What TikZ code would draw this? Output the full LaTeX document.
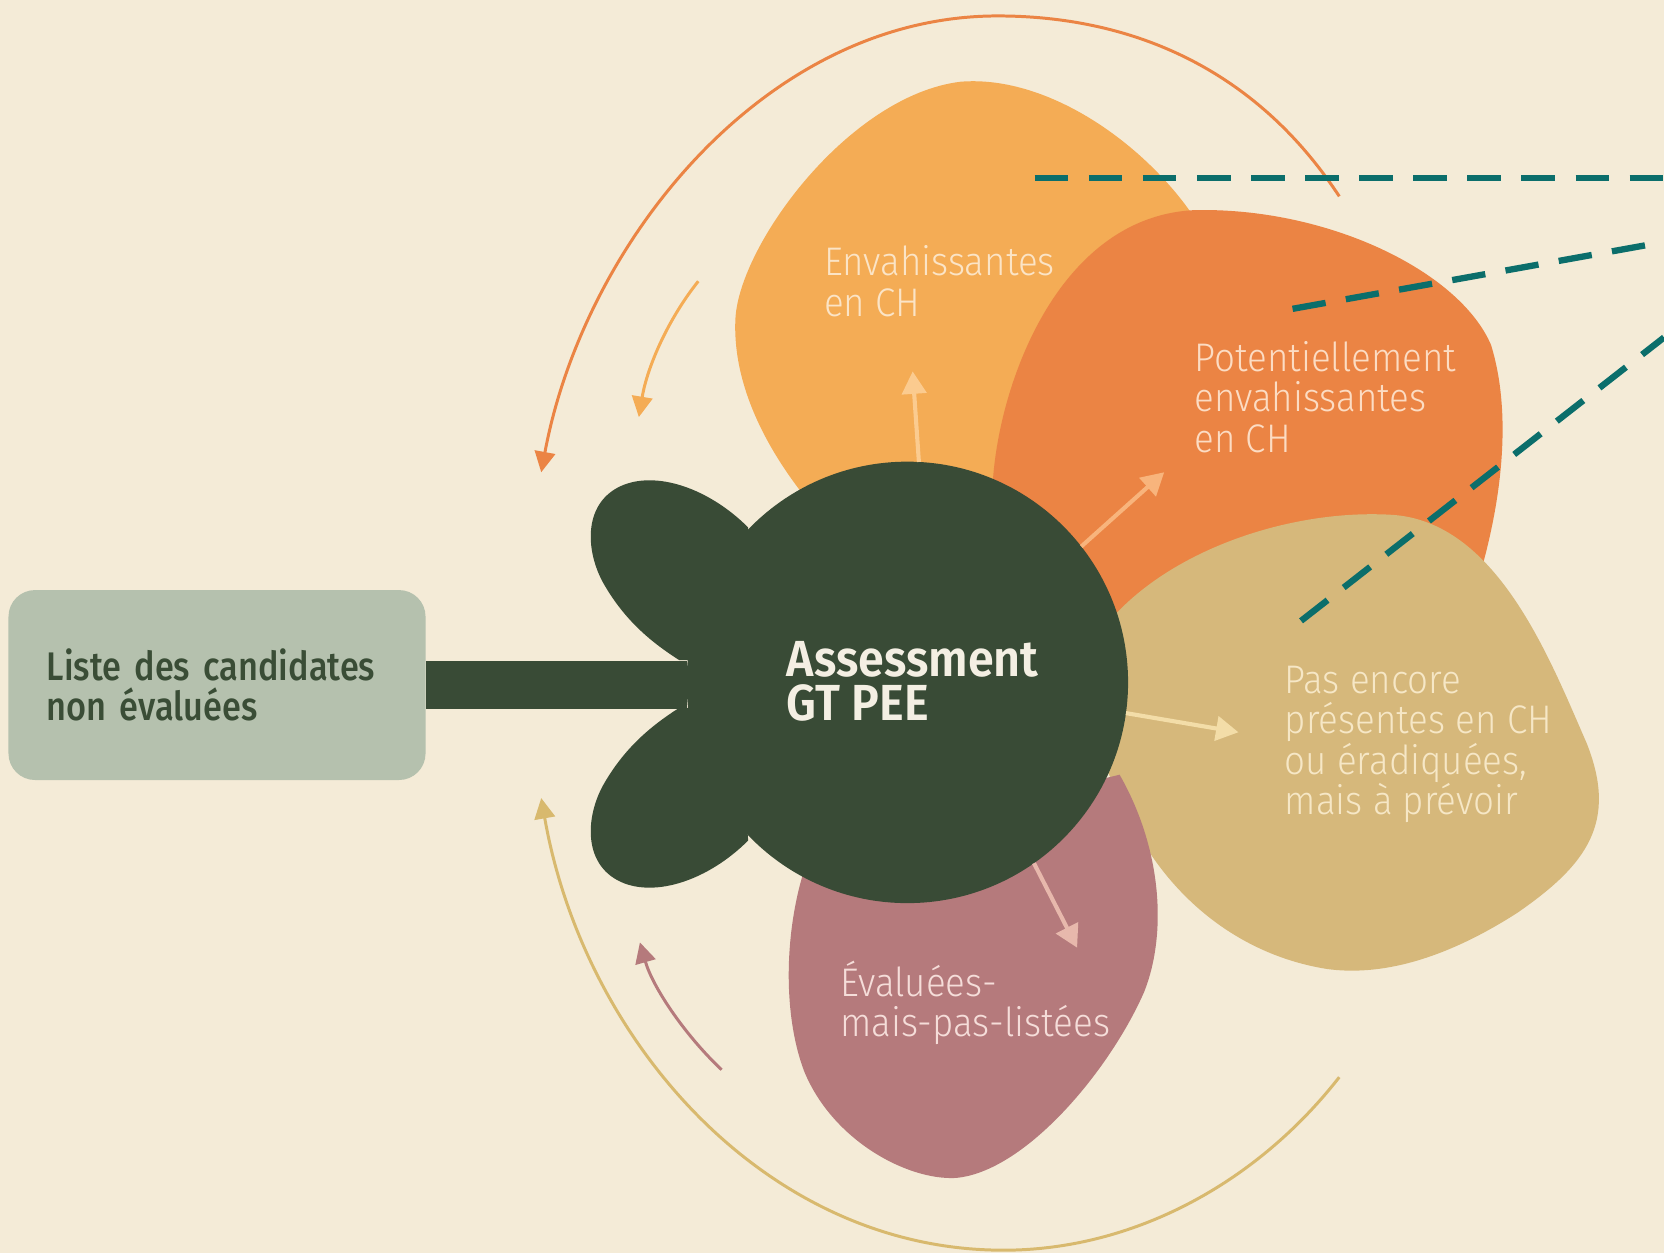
\documentclass[tikz,border=0pt]{standalone}
\usepackage{fontspec}
\setmainfont{Fira Sans}
\newfontfamily\lightfont{Fira Sans Light}[FakeStretch=0.92]
\newfontfamily\mediumfont{Fira Sans Medium}[FakeStretch=0.86]
\newfontfamily\semifont{Fira Sans SemiBold}[FakeStretch=0.92]
\usetikzlibrary{arrows.meta}
\definecolor{creme}{HTML}{F4EBD7}
\definecolor{boxgrey}{HTML}{B5C1AE}
\definecolor{boxtext}{HTML}{3A4D36}
\definecolor{hubgreen}{HTML}{394B36}
\definecolor{hubtext}{HTML}{F4EFE3}
\definecolor{lorange}{HTML}{F4AC55}
\definecolor{orangep}{HTML}{EB8444}
\definecolor{tanp}{HTML}{D6B87B}
\definecolor{mauvep}{HTML}{B57A7C}
\definecolor{tanarc}{HTML}{D8B96E}
\definecolor{tealc}{HTML}{0B6E6B}
\definecolor{arrA}{HTML}{FBCB8F}
\definecolor{arrB}{HTML}{F8B47C}
\definecolor{arrC}{HTML}{F3DDA8}
\definecolor{arrD}{HTML}{E7B8AC}
\definecolor{ltext}{HTML}{FBE4C6}
\definecolor{otext}{HTML}{FCDCC3}
\definecolor{ttext}{HTML}{F6E7C6}
\definecolor{mtext}{HTML}{F5DDD9}

\begin{document}
\begin{tikzpicture}[x=0.1mm,y=-0.1mm,
		lbl/.style = {anchor=north west,inner sep=0pt,align=left,
			font=\lightfont\fontsize{10.7}{10.8}\selectfont},
		box/.style = {fill=boxgrey,rounded corners=2.5mm,minimum width=39.3mm,minimum height=17.9mm,
			text width=32.1mm,inner xsep=3.6mm,inner ysep=0pt,align=left,text=boxtext,
			font=\mediumfont\fontsize{10.7}{10.8}\selectfont},
		hub/.style = {circle,fill=hubgreen,minimum size=41.6mm,inner sep=0pt,outer sep=0pt},
		hubtxt/.style = {align=left,text=hubtext,inner sep=0pt,
			font=\semifont\fontsize{13.6}{11.95}\selectfont},
		inarrow/.style = {line width=1.1pt,-{Triangle[width=6.5pt,length=6pt]}},
		cycarrow/.style = {line width=0.8pt,-{Triangle[width=5.5pt,length=5.5pt]}},
		guide/.style = {tealc,line width=1.7pt,dash pattern=on 9pt off 5.5pt}]
		\fill[creme] (0,0) rectangle (1568,1181);
		\useasboundingbox (0,0) rectangle (1568,1181);
		% petals
		\fill[lorange] (760,470) .. controls (720,420) and (690,360) .. (693,300)
			.. controls (697,230) and (800,90) .. (905,77)
			.. controls (990,70) and (1085,140) .. (1130,212) -- (1000,460) -- cycle;
		\fill[orangep] (935,470) .. controls (935,380) and (990,205) .. (1125,198)
			.. controls (1250,195) and (1375,255) .. (1405,325)
			.. controls (1425,390) and (1415,470) .. (1395,540) -- (1150,600) -- (1000,600) -- cycle;
		\fill[tanp] (1050,580) .. controls (1110,515) and (1220,480) .. (1310,485)
			.. controls (1410,490) and (1460,620) .. (1495,700)
			.. controls (1525,775) and (1495,815) .. (1430,860)
			.. controls (1360,905) and (1300,920) .. (1250,913)
			.. controls (1170,900) and (1110,850) .. (1075,790) -- (1040,720) -- (1000,600) -- cycle;
		\fill[mauvep] (765,800) .. controls (740,860) and (735,950) .. (758,1010)
			.. controls (785,1075) and (855,1112) .. (900,1110)
			.. controls (965,1105) and (1045,1010) .. (1078,935)
			.. controls (1100,880) and (1095,800) .. (1055,730) -- cycle;
		% lobes of the hub
		\fill[hubgreen] (705,497) .. controls (668,460) and (618,443) .. (585,458)
			.. controls (548,475) and (552,522) .. (570,552)
			.. controls (590,586) and (615,606) .. (640,622) -- (660,622) -- (700,560) -- cycle;
		\fill[hubgreen] (705,792) .. controls (668,829) and (618,846) .. (585,831)
			.. controls (548,814) and (552,767) .. (570,737)
			.. controls (590,703) and (615,683) .. (640,667) -- (660,667) -- (700,729) -- cycle;
		\node[hub] (gt) at (855,643) {};
		\node[hubtxt] (gttext) at (860,642) {Assessment\\GT PEE};
		\node[box] (liste) at (204.5,645.5) {\mbox{Liste des candidates}\\non évaluées};
		\draw[hubgreen,line width=12.8pt] (liste.east) -- (liste.east -| gt.west);
		% labels
		\node[lbl, text=ltext] (envah) at (776,231) {Envahissantes\\en CH};
		\node[lbl, text=otext] (poten) at (1125,321) {Potentiellement\\envahissantes\\en CH};
		\node[lbl, text=ttext] (pasenc) at (1210,627) {Pas encore\\présentes en CH\\ou éradiquées,\\mais à prévoir};
		\node[lbl, text=mtext] (evalu) at (791,905) {Évaluées-\\mais-pas-listées};
		% arrows out of the hub
		\coordinate (tipA) at (860,350);
		\coordinate (tipB) at (1097,445);
		\coordinate (tipC) at (1167,690);
		\coordinate (tipD) at (1015,893);
		\draw[inarrow, arrA] (gt.87) -- (tipA);
		\draw[inarrow, arrB] (gt.38) -- (tipB);
		\draw[inarrow, arrC] (gt.-8) -- (tipC);
		\draw[inarrow, arrD] (gt.-55) -- (tipD);
		% arcs back to the list
		\draw[cycarrow, orangep] (1262,185) .. controls (1180,60) and (1060,15) .. (940,15)
			.. controls (720,15) and (550,230) .. (510,445);
		\draw[cycarrow, lorange] (658,265) .. controls (630,300) and (610,345) .. (602,393);
		\draw[cycarrow, tanarc] (1262,1015) .. controls (1180,1120) and (1060,1180) .. (940,1178)
			.. controls (720,1175) and (550,980) .. (510,752);
		\draw[cycarrow, mauvep] (680,1008) .. controls (645,975) and (615,930) .. (603,888);
		% dashed guides
		\coordinate (gA1) at (975,168);
		\coordinate (gA2) at (1568,168);
		\coordinate (gB1) at (1218,291);
		\coordinate (gB2) at (1568,228);
		\coordinate (gC1) at (1226,585);
		\coordinate (gC2) at (1568,318);
		\draw[guide] (gA1) -- (gA2);
		\draw[guide] (gB1) -- (gB2);
		\draw[guide] (gC1) -- (gC2);
	\end{tikzpicture}
\end{document}
